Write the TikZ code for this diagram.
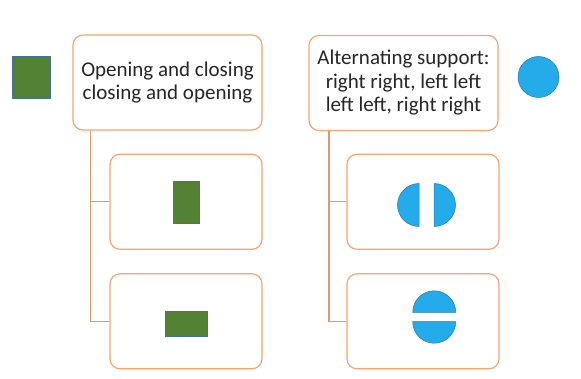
\documentclass[tikz,border=0pt]{standalone}
\usepackage{fontspec}
\setmainfont{Carlito}
\definecolor{boxline}{HTML}{F4A570}
\definecolor{linkcol}{HTML}{D99A6C}
\definecolor{leaf}{HTML}{548235}
\definecolor{leafedge}{HTML}{41719C}
\definecolor{sky}{HTML}{24ABEA}
\definecolor{skyedge}{HTML}{2E75B6}
\tikzset{
  topbox/.style={draw=boxline,line width=1.2pt,rounded corners=10pt,fill=white,align=center,
    text=black!85,minimum width=189pt,minimum height=95pt,font=\fontsize{21}{23.5}\selectfont},
  subbox/.style={draw=boxline,line width=1.2pt,rounded corners=10pt,fill=white,
    minimum width=152pt,minimum height=95pt},
  link/.style={draw=linkcol,line width=1.2pt},
  leafshape/.style={fill=leaf,draw=leafedge,line width=.6pt,inner sep=0pt},
  skyshape/.style={fill=sky,draw=skyedge,line width=.5pt,inner sep=0pt}
}
\begin{document}
\begin{tikzpicture}[x=1pt,y=-1pt]
  \useasboundingbox (0,0) rectangle (581,379);
  % top boxes
  \node[topbox] (open) at (167.5,82.5) {Opening and closing\\closing and opening};
  \node[topbox] (alt) at (403.5,83) {Alternating support:\\right right, left left\\left left, right right};
  % sub boxes
  \node[subbox] (lsub1) at (186,201.8) {};
  \node[subbox] (lsub2) at (186,321.3) {};
  \node[subbox] (rsub1) at (423,201.8) {};
  \node[subbox] (rsub2) at (423,321.3) {};
  % connectors
  \draw[link] ([xshift=18pt]open.south west) |- (lsub1.west);
  \draw[link] ([xshift=18pt]open.south west) |- (lsub2.west);
  \draw[link] ([xshift=20.5pt]alt.south west) |- (rsub1.west);
  \draw[link] ([xshift=20.5pt]alt.south west) |- (rsub2.west);
  % symbols
  \node[leafshape,minimum width=38pt,minimum height=42pt] (sq) at (31,77) {};
  \node[leafshape,minimum width=26pt,minimum height=42pt] (vbar) at (186,202) {};
  \node[leafshape,minimum width=42pt,minimum height=25pt] (hbar) at (186,323.5) {};
  \node[skyshape,circle,minimum size=41pt] (dot) at (538.5,77) {};
  \filldraw[skyshape] (419,205) -- ++(0,-21.5) arc[start angle=270,end angle=90,radius=21.5] -- cycle;
  \filldraw[skyshape] (434,205) -- ++(0,-21.5) arc[start angle=-90,end angle=90,radius=21.5] -- cycle;
  \filldraw[skyshape] (412.7,312.3) arc[start angle=180,end angle=360,radius=21.5] -- cycle;
  \filldraw[skyshape] (455.7,321.7) arc[start angle=0,end angle=180,radius=21.5] -- cycle;
\end{tikzpicture}
\end{document}
